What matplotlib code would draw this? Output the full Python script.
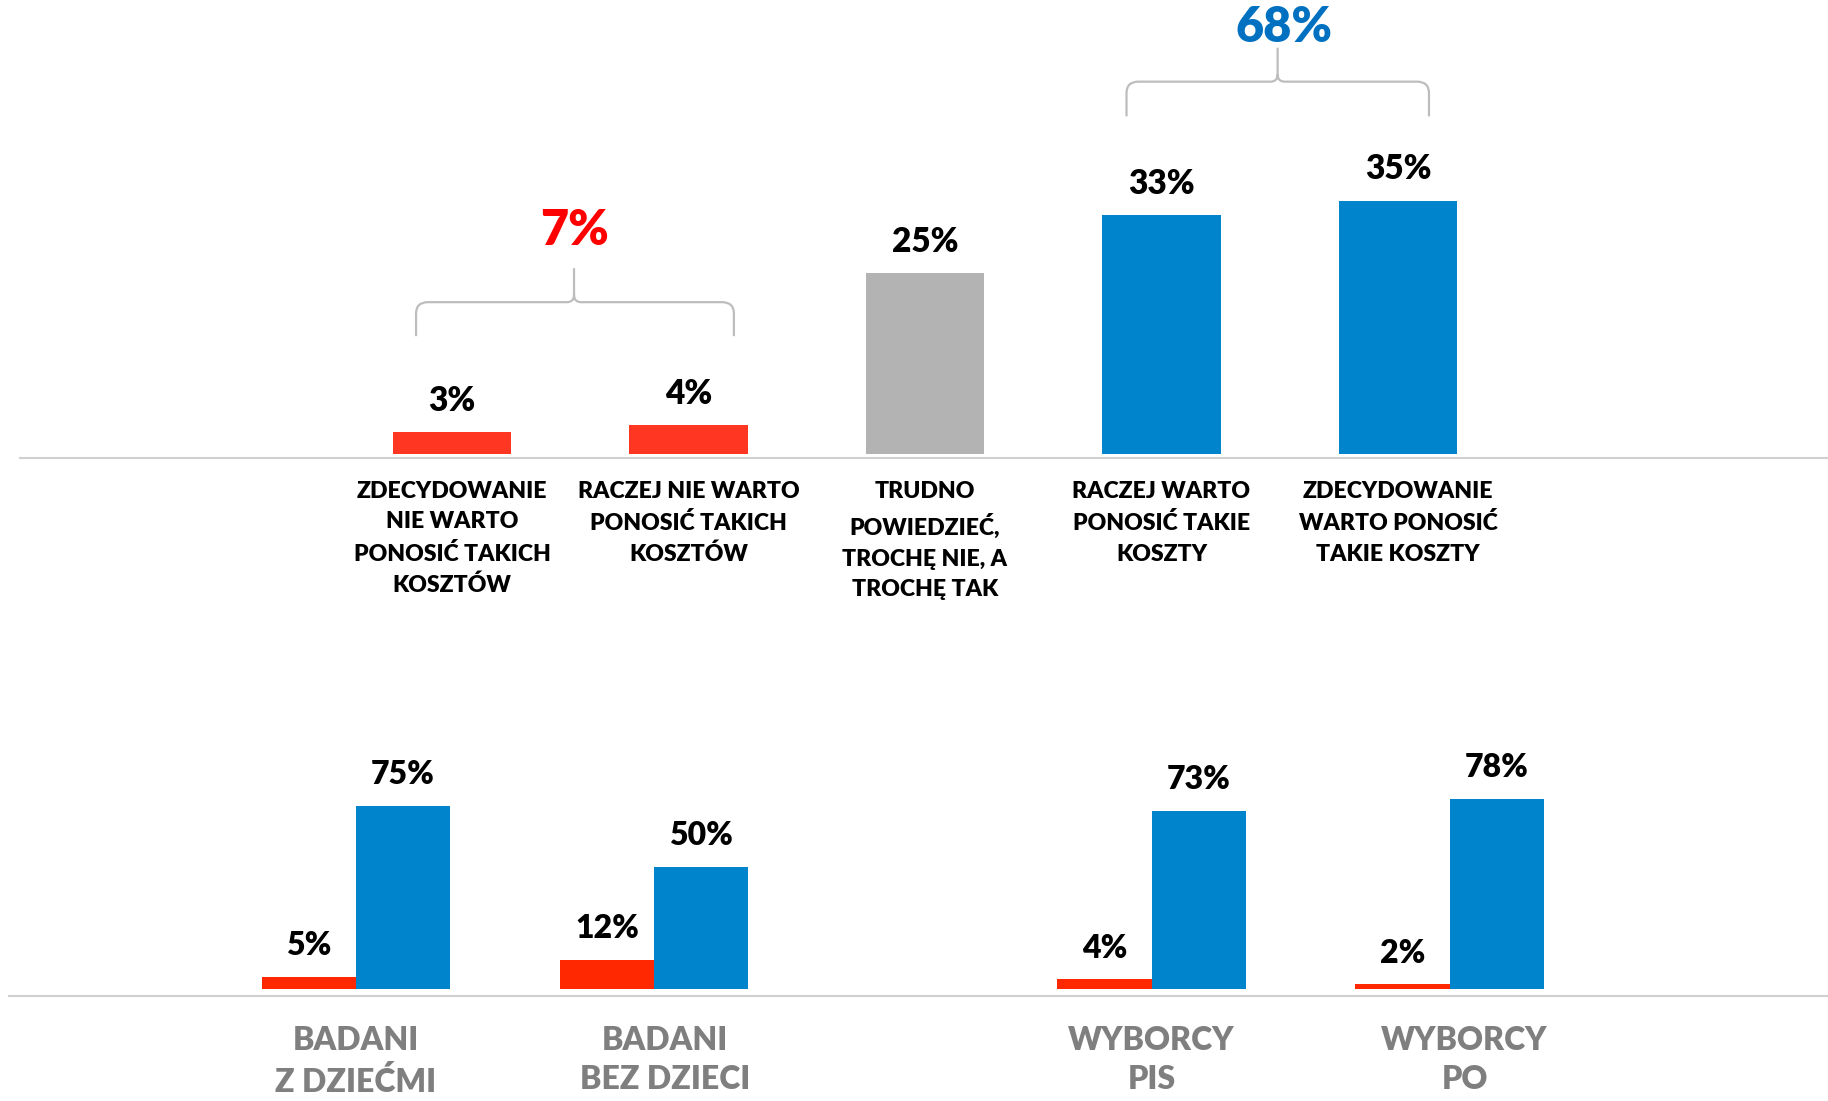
import numpy as np
import matplotlib
matplotlib.use('Agg')
import matplotlib.pyplot as plt
from matplotlib.path import Path
from matplotlib.patches import PathPatch

plt.rcParams['font.family'] = ['Lato', 'DejaVu Sans']
plt.rcParams['font.weight'] = 'heavy'

# dane - wykres górny
top_labels = ['ZDECYDOWANIE\nNIE WARTO\nPONOSIĆ TAKICH\nKOSZTÓW',
              'RACZEJ NIE WARTO\nPONOSIĆ TAKICH\nKOSZTÓW',
              'TRUDNO\nPOWIEDZIEĆ,\nTROCHĘ NIE, A\nTROCHĘ TAK',
              'RACZEJ WARTO\nPONOSIĆ TAKIE\nKOSZTY',
              'ZDECYDOWANIE\nWARTO PONOSIĆ\nTAKIE KOSZTY']
top_values = [3, 4, 25, 33, 35]

# dane - wykres dolny
bottom_groups = ['BADANI\nZ DZIEĆMI', 'BADANI\nBEZ DZIECI', 'WYBORCY\nPIS', 'WYBORCY\nPO']
bottom_nie = [5, 12, 4, 2]
bottom_tak = [75, 50, 73, 78]

RED_TOP = '#FF3621'
RED_BOT = '#FF2800'
BLUE = '#0084CB'
GRAY = '#B3B3B3'
LINE = '#D0D0D0'
BRACE = '#BDBDBD'

W, H = 1828, 1101
fig = plt.figure(figsize=(W / 100, H / 100), dpi=100)


def px_axes(left, top, right, bottom):
    ax = fig.add_axes([left / W, 1 - bottom / H, (right - left) / W, (bottom - top) / H])
    ax.axis('off')
    return ax


def brace(ax, x0, x1, xm, yb, yh, yt, rx=0.05, ry=1.6, rx2=0.03, ry2=1.0):
    verts = [(x0, yb), (x0, yh - ry), (x0, yh), (x0 + rx, yh), (xm - rx2, yh), (xm, yh), (xm, yh + ry2), (xm, yt),
             (x1, yb), (x1, yh - ry), (x1, yh), (x1 - rx, yh), (xm + rx2, yh), (xm, yh), (xm, yh + ry2)]
    codes = [Path.MOVETO, Path.LINETO, Path.CURVE3, Path.CURVE3, Path.LINETO, Path.CURVE3, Path.CURVE3, Path.LINETO,
             Path.MOVETO, Path.LINETO, Path.CURVE3, Path.CURVE3, Path.LINETO, Path.CURVE3, Path.CURVE3]
    ax.add_patch(PathPatch(Path(verts, codes), fill=False, ec=BRACE, lw=1.6))


# ---- wykres górny ----
ax1 = px_axes(0, 0, W, 470)
ax1.set_xlim(-452 / 236.5, (W - 452) / 236.5)
ax1.set_ylim(-16 / 7.23, 454 / 7.23)
x1 = np.arange(len(top_values))
kolory = [RED_TOP, RED_TOP, GRAY, BLUE, BLUE]
ax1.bar(x1, top_values, width=0.5, color=kolory)
ax1.axhline(-0.55, xmin=20 / W, xmax=1, color=LINE, lw=1.5)
for xi, v in zip(x1, top_values):
    ax1.annotate(f'{v}%', (xi, v), xytext=(0, 15.5), textcoords='offset points',
                 ha='center', va='baseline', fontsize=24, color='black')
for xi, lbl in zip(x1, top_labels):
    ax1.text(xi, -3.7, lbl, ha='center', va='top', fontsize=16.6, linespacing=1.57,
             color='black', clip_on=False)

# klamry z sumami
suma_nie = top_values[0] + top_values[1]
suma_tak = top_values[3] + top_values[4]
brace(ax1, -0.152, 1.192, 0.516, 16.3, 21.0, 25.7)
ax1.text(0.516, 30.9, f'{suma_nie}%', ha='center', va='center', fontsize=35, color='#FF0000')
brace(ax1, 2.852, 4.131, 3.491, 46.7, 51.5, 56.2)
ax1.text(3.52, 59.0, f'{suma_tak}%', ha='center', va='center', fontsize=35, color='#0070C0')

# ---- wykres dolny ----
ax2 = px_axes(0, 640, W, H)
ax2.set_xlim(-356 / 298, (W - 356) / 298)
ax2.set_ylim(-(H - 989) / 2.44, (989 - 640) / 2.44)
gx = np.array([0, 1, 2.67, 3.67])
bw = 0.316
ax2.bar(gx - bw / 2, bottom_nie, width=bw, color=RED_BOT)
ax2.bar(gx + bw / 2, bottom_tak, width=bw, color=BLUE)
ax2.axhline(-2.87, xmin=9 / W, xmax=1, color=LINE, lw=1.5)
for xi, v in zip(gx - bw / 2, bottom_nie):
    ax2.annotate(f'{v}%', (xi, v), xytext=(0, 15.5), textcoords='offset points',
                 ha='center', va='baseline', fontsize=23, color='black')
for xi, v in zip(gx + bw / 2, bottom_tak):
    ax2.annotate(f'{v}%', (xi, v), xytext=(0, 15.5), textcoords='offset points',
                 ha='center', va='baseline', fontsize=23, color='black')
przes = [0, 0.037, 0, 0.05]
for xi, dx, lbl in zip(gx, przes, bottom_groups):
    ax2.text(xi + dx, -15.3, lbl, ha='center', va='top', fontsize=23, linespacing=1.4,
             color='#7F7F7F', clip_on=False)

fig.savefig('out.png', dpi=100, facecolor='white')
